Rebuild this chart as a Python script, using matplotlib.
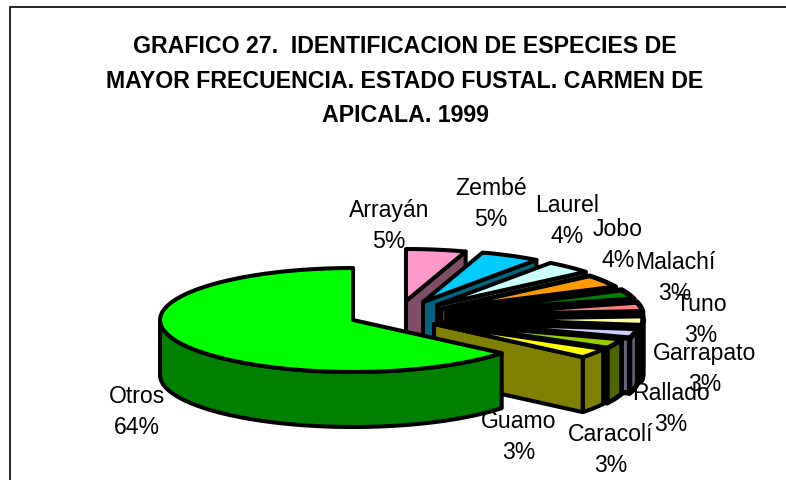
import numpy as np
import matplotlib
matplotlib.use('Agg')
import matplotlib.pyplot as plt
from matplotlib.patches import Polygon

plt.rcParams['font.family'] = ['Liberation Sans', 'DejaVu Sans']

titulo = 'GRAFICO 27.  IDENTIFICACION DE ESPECIES DE\nMAYOR FRECUENCIA. ESTADO FUSTAL. CARMEN DE\nAPICALA. 1999'

especies = ['Arrayán', 'Zembé', 'Laurel', 'Jobo', 'Malachí', 'Tuno',
            'Garrapato', 'Rallado', 'Caracolí', 'Guamo', 'Otros']
porcentajes = [5, 5, 4, 4, 3, 3, 3, 3, 3, 3, 64]

# colores de la cara superior y del lateral
c_top = ['#FF99CC', '#00CCFF', '#CCFFFF', '#FF9900', '#008000', '#FF8080',
         '#FFFF99', '#CCCCFF', '#99CC00', '#FFFF00', '#00FF00']
c_side = ['#804D66', '#006680', '#668080', '#804D00', '#004000', '#804040',
          '#80804D', '#666680', '#4D6600', '#808000', '#008000']

# vertice de cada porcion en pixeles (grafico explotado)
apex = [(406, 302), (423, 303), (437, 306), (441, 310), (447, 313), (450, 316),
        (450, 320), (446, 323), (438, 324), (434, 325), (353, 321)]
# las porciones del centro quedan casi tapadas por el borde negro
grosor = [2.9, 2.9, 2.9, 3.4, 3.8, 3.8, 3.8, 3.8, 3.4, 2.9, 2.9]
# posicion de las etiquetas
lab_pos = [(389, 226), (491, 204), (567, 221), (618, 245), (675, 278), (701, 320),
           (705, 369), (671, 409), (611, 450), (519, 437), (137, 412)]

A, B, DEPTH = 193, 52, 55

fig = plt.figure(figsize=(7.86, 4.81), dpi=100)
ax = fig.add_axes([0, 0, 1, 1])
ax.set_xlim(0, 786)
ax.set_ylim(481, 0)
ax.axis('off')

# marco: solo arriba y a la izquierda se ven en la captura
ax.plot([786, 10, 10], [8, 8, 481], color='black', lw=1.2, solid_joinstyle='miter')


def borde(c, t):
    t = np.radians(t)
    return np.column_stack([c[0] + A * np.sin(t), c[1] - B * np.cos(t)])


def poly(pts, color, z, lw):
    ax.add_patch(Polygon(pts, closed=True, facecolor=color, edgecolor='black',
                         lw=lw, joinstyle='round', zorder=z))


acum = np.cumsum([0] + porcentajes) * 3.6
for i in range(len(porcentajes)):
    t1, t2 = acum[i], acum[i + 1]
    c = apex[i]
    z = 3 + i
    arco = borde(c, np.linspace(t1, t2, 60))
    # lateral exterior, solo la parte de frente
    v1, v2 = max(t1, 90), min(t2, 270)
    if v2 > v1:
        r = borde(c, np.linspace(v1, v2, 60))
        poly(np.vstack([r, (r + [0, DEPTH])[::-1]]), c_side[i], z, grosor[i])
    # cara de corte de la derecha
    if t2 < 180:
        p = borde(c, np.array([t2]))[0]
        cara = [c, p, (p[0], p[1] + DEPTH), (c[0], c[1] + DEPTH)]
        poly(cara, c_side[i], z, grosor[i])
    poly(np.vstack([[c], arco]), c_top[i], z, grosor[i])

for nom, val, pos in zip(especies, porcentajes, lab_pos):
    ax.text(pos[0], pos[1], f'{nom}\n{val}%', ha='center', va='center', fontsize=16.6,
            linespacing=1.45, color='black', zorder=30)

ax.text(405, 81, titulo, ha='center', va='center', fontsize=16.7, fontweight='bold',
        linespacing=1.66, zorder=30)

fig.savefig('out.png', dpi=100)
